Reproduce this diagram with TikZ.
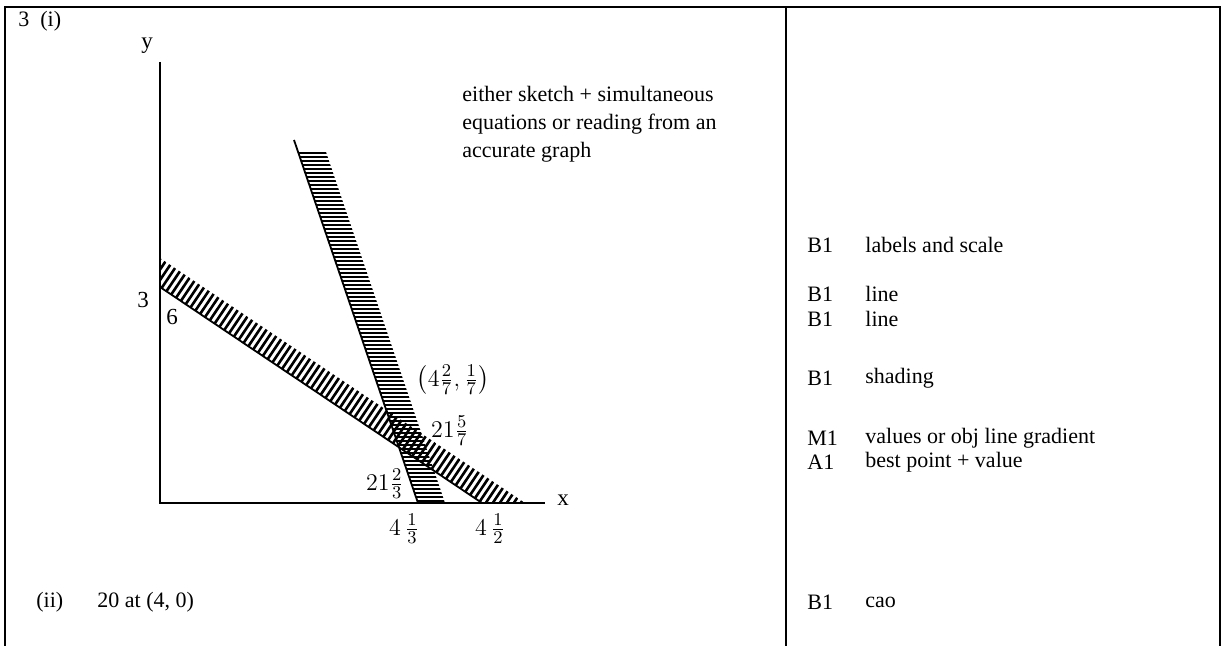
\documentclass[tikz,border=0pt]{standalone}
\usepackage{fontspec}
\setmainfont{Liberation Serif}
\usepackage{amsmath}
\begin{document}
\begin{tikzpicture}[x=0.5pt,y=-0.5pt,
  frame/.style={line width=1pt},
  axis/.style={line width=0.8pt},
  gline/.style={line width=0.9pt},
  lbl/.style={font=\fontsize{11.5}{13}\selectfont, inner sep=0pt},
  mlbl/.style={font=\fontsize{12.5}{14}\selectfont, inner sep=0pt},
  txt/.style={font=\fontsize{11}{14}\selectfont, inner sep=0pt, anchor=west},
  hatchH/.style={line width=1.2pt},
  hatchD/.style={line width=1.3pt}]
\useasboundingbox (0,0) rectangle (1225,646);
% frame
\draw[frame] (5,646) -- (5,7) -- (1220,7) -- (1220,646);
\draw[frame] (786,7) -- (786,646);
% axes
\coordinate (O) at (160,503);
\coordinate (Ytop) at (160,62);
\coordinate (Xend) at (545,503);
\draw[axis] (Ytop) -- (O) -- (Xend);
% lines
\coordinate (A) at (294,140);
\coordinate (B) at (418,503);
\coordinate (C) at (160,287);
\coordinate (D) at (482,503);
% steep band hatching
\begin{scope}
  \clip (298,152) -- (326,152) -- (445,503) -- (418,503) -- cycle;
  \foreach \yy in {153,157,...,503} {\draw[hatchH] (280,\yy) -- (460,\yy);}
\end{scope}
% shallow band hatching
\begin{scope}
  \clip (160,258) -- (160,287) -- (482,503) -- (525,503) -- cycle;
  \foreach \s in {-30,-23,...,540} {\draw[hatchD] (\s,510) -- ({\s+0.674*320},190);}
\end{scope}
\draw[gline] (A) -- (B);
\draw[gline] (C) -- (D);
% axis labels
\node[lbl] (ylab) at (147,46) {y};
\node[lbl] (xlab) at (563,500) {x};
\node[lbl] (three) at (143,300) {3};
\node[lbl] (six) at (172,317) {6};
\node[mlbl] (pt) at (453,380) {$\left(4\tfrac{2}{7},\tfrac{1}{7}\right)$};
\node[mlbl] (v1) at (450,431) {$21\tfrac{5}{7}$};
\node[mlbl] (v2) at (385,484) {$21\tfrac{2}{3}$};
\node[mlbl] (x1) at (404,529) {$4\,\tfrac{1}{3}$};
\node[mlbl] (x2) at (490,529) {$4\,\tfrac{1}{2}$};
% left texts
\node[txt] (q) at (18,21) {3\enspace(i)};
\node[txt, align=left, anchor=north west] (note) at (462,86) {either sketch + simultaneous\\equations or reading from an\\accurate graph};
\node[txt] (ii) at (36,602) {(ii)};
\node[txt] (ans) at (97,602) {20 at (4, 0)};
% right column
\node[txt] (m1) at (807,245) {B1};
\node[txt] (t1) at (865,245) {labels and scale};
\node[txt] (m2) at (807,294) {B1};
\node[txt] (t2) at (865,294) {line};
\node[txt] (m3) at (807,319) {B1};
\node[txt] (t3) at (865,319) {line};
\node[txt] (m4) at (807,378) {B1};
\node[txt] (t4) at (865,378) {shading};
\node[txt] (m5) at (807,438) {M1};
\node[txt] (t5) at (865,438) {values or obj line gradient};
\node[txt] (m6) at (807,462) {A1};
\node[txt] (t6) at (865,462) {best point + value};
\node[txt] (m7) at (807,602) {B1};
\node[txt] (t7) at (865,602) {cao};
\end{tikzpicture}
\end{document}
